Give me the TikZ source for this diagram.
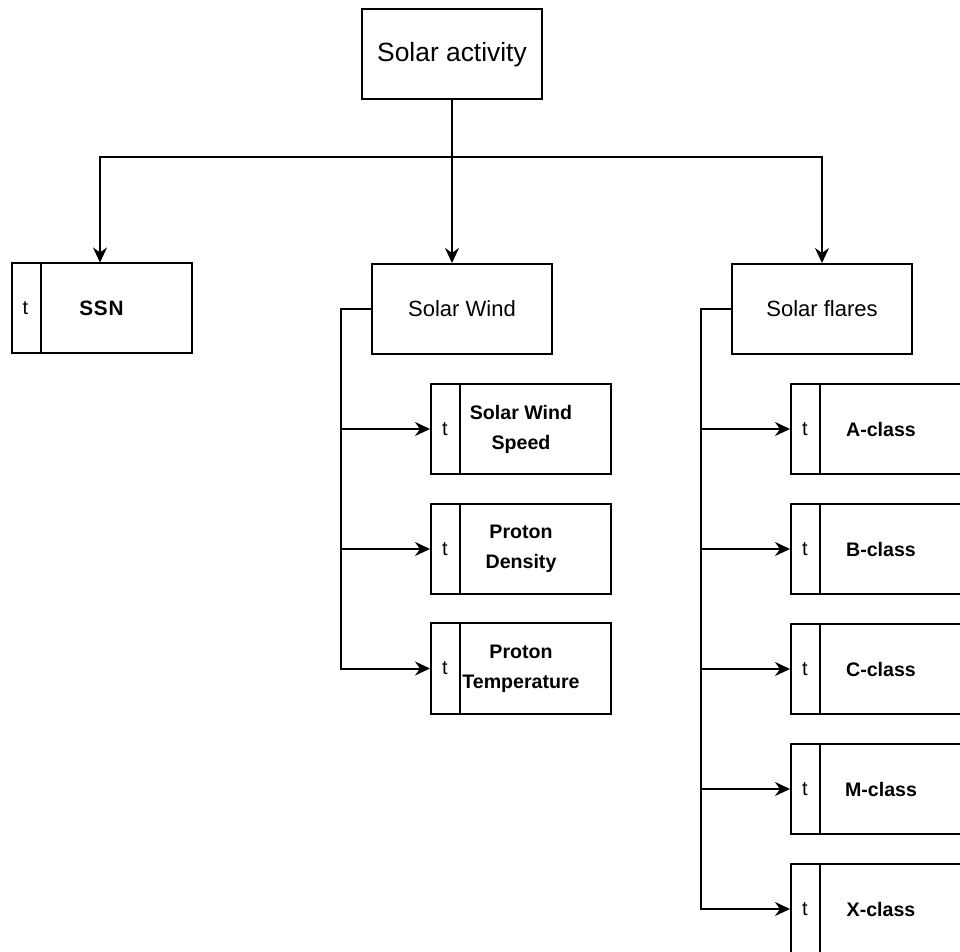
\documentclass[tikz,border=0pt]{standalone}
\usepackage{fontspec}
\setmainfont{Liberation Sans}
\usetikzlibrary{arrows.meta,calc}

% item box with a narrow "t" column on its left
\newcommand{\tcol}[1]{%
  \draw[line width=1pt] ([xshift=15pt]#1.north west) -- ([xshift=15pt]#1.south west);
  \node[tletter] (#1-t) at ([xshift=7.5pt]#1.west) {t};
}

\begin{document}
\begin{tikzpicture}[x=0.5pt, y=-0.5pt,
    box/.style={draw, line width=1pt, minimum width=90pt, minimum height=45pt,
      inner sep=0pt, align=center},
    topbox/.style={box, font=\fontsize{13.2}{16}\selectfont},
    groupbox/.style={box, font=\fontsize{11}{14}\selectfont},
    itembox/.style={box, font=\bfseries\fontsize{9.8}{15}\selectfont},
    tletter/.style={inner sep=0pt, font=\fontsize{10}{12}\selectfont},
    link/.style={line width=1pt, -{Stealth[length=7.5pt, width=7pt, inset=2.5pt]}}]
  \useasboundingbox (0,0) rectangle (960,952);
  \fill[white] (0,0) rectangle (960,952);
  \clip (0,0) rectangle (960,952);

  % Root
  \node[topbox] (top) at (452,54.5) {Solar activity};
  \coordinate (split) at (452,157);

  % Second level
  \node[itembox, font=\bfseries\fontsize{10.4}{12}\selectfont] (ssn) at (101.5,308.5) {S\kern0.4pt S\kern0.4pt N};
  \tcol{ssn}
  \node[groupbox] (wind) at (462,309) {Solar Wind};
  \node[groupbox] (flares) at (822,309) {Solar flares};

  \draw[line width=1pt] (top.south) -- (split);
  \draw[link] (split) -| (ssn.north west -| 100,0);
  \draw[link] (split) -- (top.south |- wind.north);
  \draw[link] (split) -| (flares.north);

  % Solar wind items
  \node[itembox] (speed) at (521,429) {Solar Wind\\Speed};
  \node[itembox] (density) at (521,549) {Proton\\Density};
  \node[itembox] (temp) at (521,668.5) {Proton\\Temperature};
  \foreach \n in {speed,density,temp}{
    \tcol{\n}
    \draw[link] (wind.west) -- ++(-30,0) |- (\n.west);
  }

  % Flare classes
  \node[itembox] (aclass) at (881,429) {A-class};
  \node[itembox] (bclass) at (881,549) {B-class};
  \node[itembox] (cclass) at (881,669) {C-class};
  \node[itembox] (mclass) at (881,789) {M-class};
  \node[itembox] (xclass) at (881,909) {X-class};
  \foreach \n in {aclass,bclass,cclass,mclass,xclass}{
    \tcol{\n}
    \draw[link] (flares.west) -- ++(-30,0) |- (\n.west);
  }
\end{tikzpicture}
\end{document}
